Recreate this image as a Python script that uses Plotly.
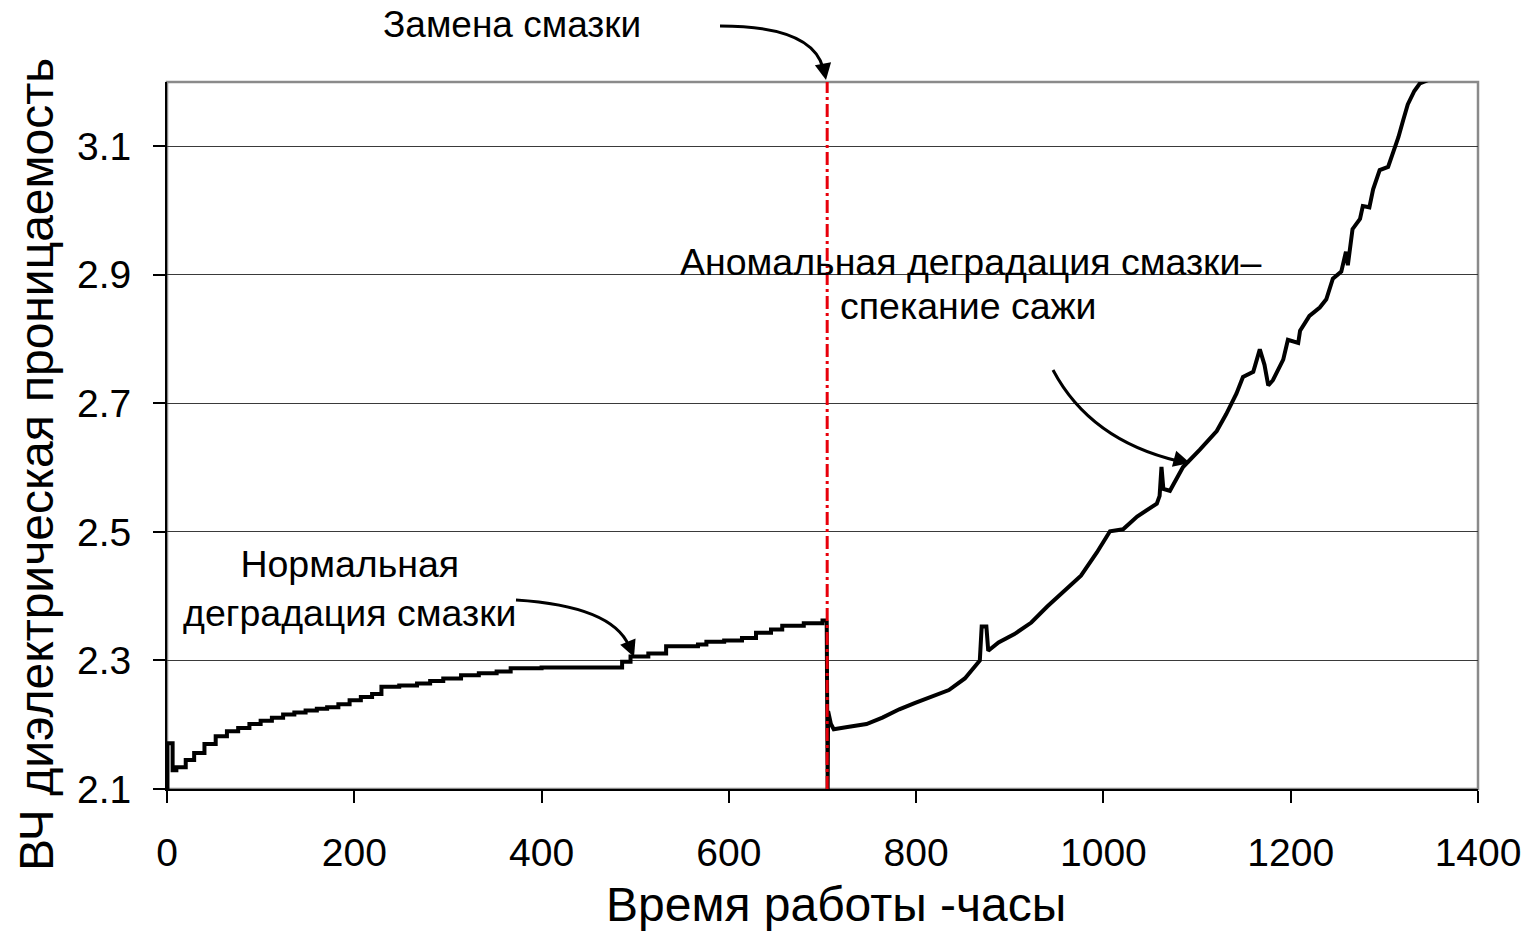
import plotly.graph_objects as go

# ---- data ----
hours = [0, 0.5, 6, 10, 20, 29, 40, 52, 64, 76, 88, 100, 112, 124, 136, 148, 160, 171, 183, 195,
         207, 219, 229, 248, 267, 281, 295, 314, 333, 352, 367, 400, 440, 481, 486, 495, 514,
         533, 550, 567, 576, 595, 614, 629, 645, 657, 680, 700, 704.5,
         705.5, 706, 709, 712, 725, 747, 764, 782, 799, 817, 835, 852, 868, 870, 875, 877,
         888, 905, 923, 940, 958, 976, 993, 1007, 1021, 1036, 1057, 1060, 1062, 1064, 1071,
         1085, 1103, 1121, 1131, 1142, 1149, 1160, 1167, 1172, 1176, 1181, 1192, 1197, 1208,
         1210, 1220, 1231, 1238, 1245, 1254, 1259, 1261, 1266, 1274, 1277, 1284, 1288, 1295,
         1304, 1309, 1315, 1320, 1325, 1332, 1338, 1350]
permittivity = [2.10, 2.171, 2.129, 2.134, 2.145, 2.156, 2.170, 2.182, 2.190, 2.195, 2.201, 2.206,
                2.211, 2.216, 2.219, 2.222, 2.225, 2.227, 2.232, 2.238, 2.243, 2.248, 2.259,
                2.261, 2.264, 2.268, 2.272, 2.277, 2.280, 2.283, 2.288, 2.289, 2.289, 2.289,
                2.298, 2.306, 2.311, 2.322, 2.322, 2.325, 2.329, 2.331, 2.335, 2.343, 2.348,
                2.354, 2.358, 2.362, 2.362,
                2.100, 2.221, 2.201, 2.193, 2.196, 2.201, 2.211, 2.224, 2.234, 2.244, 2.254,
                2.272, 2.300, 2.353, 2.353, 2.315,
                2.328, 2.341, 2.359, 2.384, 2.409, 2.432, 2.468, 2.501, 2.504, 2.524, 2.544,
                2.556, 2.601, 2.567, 2.564,
                2.601, 2.628, 2.657, 2.683, 2.715, 2.741, 2.749, 2.784, 2.760, 2.728, 2.736,
                2.768, 2.799, 2.794,
                2.813, 2.836, 2.849, 2.862, 2.894, 2.905, 2.936, 2.915, 2.971, 2.987, 3.007,
                3.005, 3.033, 3.063,
                3.068, 3.089, 3.114, 3.140, 3.165, 3.186, 3.198, 3.205]

oil_change_hour = 705
x_ticks = [0, 200, 400, 600, 800, 1000, 1200, 1400]
y_ticks = [2.1, 2.3, 2.5, 2.7, 2.9, 3.1]
x_range = [0, 1400]
y_range = [2.1, 3.2]

title_x = "Время работы -часы"
title_y = "ВЧ диэлектрическая проницаемость"
label_change = "Замена смазки"
label_normal = "Нормальная<br>деградация смазки"
label_abnormal_1 = "Аномальная деградация смазки–"
label_abnormal_2 = "спекание сажи"

# ---- layout geometry ----
W, H = 1525, 933
L, R, T, B = 167, 47, 82, 144


def px(xp):
    return (xp - L) / (W - R - L)


def py(yp):
    return (H - B - yp) / (H - B - T)


FONT = "Liberation Sans, Arial, sans-serif"


def text_ann(text, x, y, size, **kw):
    return dict(text=text, x=px(x), y=py(y), xref="paper", yref="paper",
                xanchor="center", yanchor="middle", showarrow=False,
                font=dict(family=FONT, size=size, color="black"), **kw)


# split the series at the oil change (first oil: stepped record, new oil: finer record)
split = max(i for i, h in enumerate(hours) if h < oil_change_hour)

fig = go.Figure()
fig.add_trace(go.Scatter(x=hours[:split + 1], y=permittivity[:split + 1], mode="lines",
                         line=dict(color="black", width=4, shape="hv"), showlegend=False,
                         hoverinfo="skip"))
fig.add_trace(go.Scatter(x=hours[split:], y=permittivity[split:], mode="lines",
                         line=dict(color="black", width=4), showlegend=False,
                         hoverinfo="skip"))
fig.add_trace(go.Scatter(x=[oil_change_hour, oil_change_hour], y=y_range, mode="lines",
                         line=dict(color="#e8000b", width=3, dash="13px,4px,3px,4px"),
                         showlegend=False, hoverinfo="skip"))

shapes = [
    dict(type="rect", xref="paper", yref="paper", x0=0, y0=0, x1=1, y1=1,
         line=dict(color="#8a8a8a", width=2.5), layer="below"),
    # curved arrows
    dict(type="path", xref="paper", yref="paper",
         path=f"M {px(720)},{py(26)} Q {px(812)},{py(26)} {px(823)},{py(68)}",
         line=dict(color="black", width=3)),
    dict(type="path", xref="paper", yref="paper",
         path=f"M {px(516)},{py(600)} Q {px(612)},{py(606)} {px(629)},{py(646)}",
         line=dict(color="black", width=3)),
    dict(type="path", xref="paper", yref="paper",
         path=f"M {px(1053)},{py(370)} Q {px(1090)},{py(440)} {px(1178)},{py(461)}",
         line=dict(color="black", width=3)),
]

annotations = [
    text_ann(label_change, 512, 25, 37),
    text_ann(label_abnormal_1, 970, 262, 37.5),
    text_ann(label_abnormal_2, 968, 306, 37.5),
    text_ann(label_normal, 350, 588, 37.5, align="center"),
    text_ann(title_x, 836, 904, 48),
    text_ann(title_y, 37, 465, 48, textangle=-90),
    # arrow heads
    dict(text="", x=px(826), y=py(80), xref="paper", yref="paper", showarrow=True,
         ax=-3, ay=-16, arrowhead=2, arrowsize=1.1, arrowwidth=3, arrowcolor="black"),
    dict(text="", x=px(634), y=py(657), xref="paper", yref="paper", showarrow=True,
         ax=-6, ay=-15, arrowhead=2, arrowsize=1.1, arrowwidth=3, arrowcolor="black"),
    dict(text="", x=px(1190), y=py(463), xref="paper", yref="paper", showarrow=True,
         ax=-15, ay=-4, arrowhead=2, arrowsize=1.1, arrowwidth=3, arrowcolor="black"),
]

fig.update_layout(
    width=W, height=H,
    margin=dict(l=L, r=R, t=T, b=B, pad=0),
    paper_bgcolor="white", plot_bgcolor="white",
    font=dict(family=FONT, color="black"),
    shapes=shapes, annotations=annotations,
    showlegend=False,
)
fig.update_xaxes(range=x_range, tickvals=x_ticks, ticktext=[str(v) for v in x_ticks],
                 showgrid=False, zeroline=False, showline=True, linecolor="black", linewidth=2,
                 ticks="outside", ticklen=12, tickwidth=1.5, tickcolor="black",
                 ticklabelstandoff=16, ticklabeloverflow="allow", automargin=False,
                 tickfont=dict(size=39, family=FONT, color="black"))
fig.update_yaxes(range=y_range, tickvals=y_ticks, ticktext=[f"{v:.1f}" for v in y_ticks],
                 showgrid=True, gridcolor="#3a3a3a", gridwidth=1.3, zeroline=False,
                 showline=True, linecolor="black", linewidth=2,
                 ticks="outside", ticklen=12, tickwidth=1.5, tickcolor="black",
                 ticklabelstandoff=14, automargin=False,
                 tickfont=dict(size=39, family=FONT, color="black"))

fig.write_html("out.html")
